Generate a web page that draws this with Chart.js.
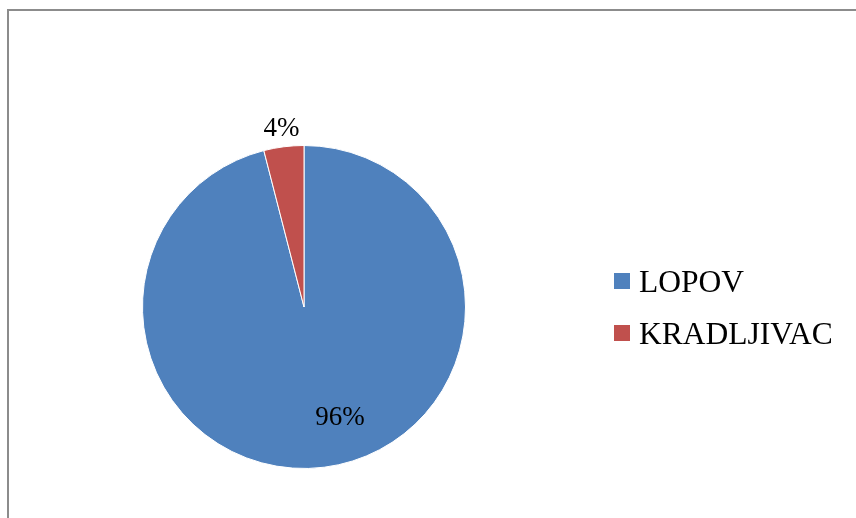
<!DOCTYPE html>
<html lang="hr">
<head>
<meta charset="UTF-8">
<title>LOPOV / KRADLJIVAC</title>
<style>
    html, body { margin: 0; padding: 0; background: #fff; }
    .frame {
        position: absolute;
        left: 7px; top: 9px;
        width: 860px; height: 520px;
        border-top: 2px solid #8c8c8c;
        border-left: 2px solid #8c8c8c;
    }
    .wrap { position: absolute; left: 0; top: 0; width: 856px; height: 518px; }
</style>
<script src="https://cdn.jsdelivr.net/npm/chart.js@4.4.0/dist/chart.umd.min.js"></script>
</head>
<body>
<div class="frame"></div>
<div class="wrap"><canvas id="pie"></canvas></div>
<script>
    const categories = ['LOPOV', 'KRADLJIVAC'];
    const shares = [96, 4];
    const sliceColors = ['#4F81BD', '#C0504D'];

    const LABEL_FONT = '27px "Liberation Serif", "Times New Roman", serif';
    const LEGEND_FONT = '31.5px "Liberation Serif", "Times New Roman", serif';

    // percent labels: big slice inside, small slice outside (like Excel best fit)
    const pctLabels = {
        id: 'pctLabels',
        afterDatasetsDraw(chart) {
            const ctx = chart.ctx;
            const arcs = chart.getDatasetMeta(0).data;
            ctx.save();
            ctx.font = LABEL_FONT;
            ctx.fillStyle = '#000';
            ctx.textAlign = 'center';
            ctx.textBaseline = 'middle';
            arcs.forEach((arc, i) => {
                const mid = (arc.startAngle + arc.endAngle) / 2;
                let r, a = mid;
                if (shares[i] < 10) {
                    r = arc.outerRadius + 18;
                } else {
                    r = arc.outerRadius * 0.72;
                    a = mid - 0.19;
                }
                const x = arc.x + Math.cos(a) * r;
                const y = arc.y + Math.sin(a) * r;
                ctx.fillText(shares[i] + '%', x, y);
            });
            ctx.restore();
        }
    };

    // legend on the right
    const sideLegend = {
        id: 'sideLegend',
        afterDraw(chart) {
            const ctx = chart.ctx;
            ctx.save();
            ctx.font = LEGEND_FONT;
            ctx.textBaseline = 'alphabetic';
            ctx.textAlign = 'left';
            categories.forEach((name, i) => {
                const y = 273 + i * 52;
                ctx.fillStyle = sliceColors[i];
                ctx.fillRect(614, y, 16, 16);
                ctx.fillStyle = '#000';
                ctx.fillText(name, 639, y + 19);
            });
            ctx.restore();
        }
    };

    new Chart(document.getElementById('pie'), {
        type: 'pie',
        data: {
            labels: categories,
            datasets: [{
                data: shares,
                backgroundColor: sliceColors,
                borderColor: '#ffffff',
                borderWidth: 1
            }]
        },
        options: {
            responsive: true,
            maintainAspectRatio: false,
            animation: false,
            layout: { padding: { left: 142, right: 390, top: 145, bottom: 49 } },
            plugins: {
                legend: { display: false },
                tooltip: { enabled: false }
            }
        },
        plugins: [pctLabels, sideLegend]
    });
</script>
</body>
</html>
